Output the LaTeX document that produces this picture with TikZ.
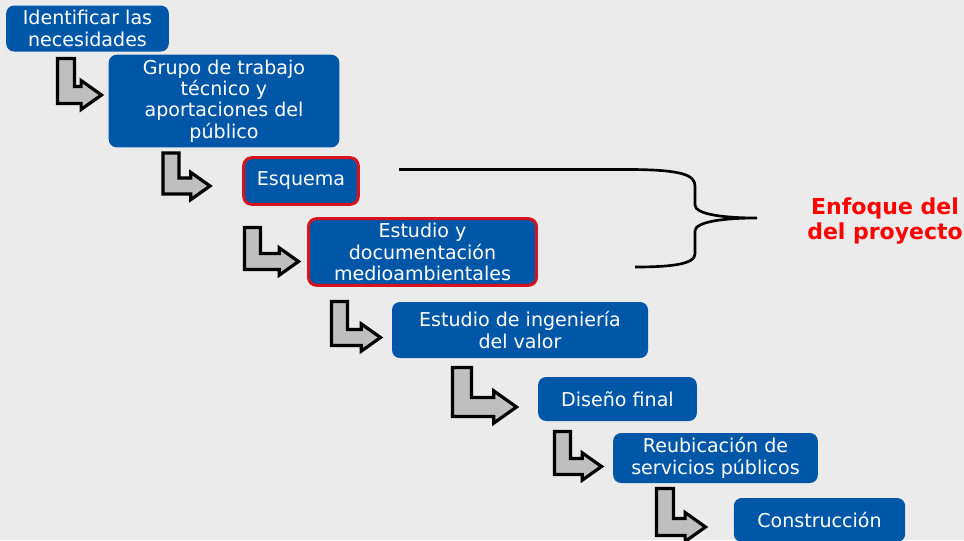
\documentclass[tikz,border=0pt]{standalone}
\usepackage{fontspec}
\setmainfont{DejaVu Sans}

\definecolor{boxblue}{HTML}{0057A8}
\definecolor{focusred}{HTML}{D7141E}
\definecolor{arrowgray}{HTML}{BFBFBF}
\definecolor{slidebg}{HTML}{EBEBEB}

% bent step arrow: x left, y top, y bottom, x tip, thickness
\newcommand{\stepArrow}[5]{%
  \draw[steparrow] (#1,#2) -- (#1+#5,#2) -- (#1+#5,#3-#5) -- (#4-1.2*#5,#3-#5)
    -- (#4-1.2*#5,#3-1.35*#5) -- (#4,#3-0.5*#5) -- (#4-1.2*#5,#3+0.35*#5)
    -- (#4-1.2*#5,#3) -- (#1,#3) -- cycle;}

\begin{document}
\begin{tikzpicture}[
                    x=0.75pt, y=-0.75pt,
                    stage/.style={fill=boxblue, text=white, rounded corners=6pt, align=center,
                                  font=\fontsize{14.3}{16}\selectfont, inner sep=2pt},
                    focus/.style={stage, draw=focusred, line width=2.2pt},
                    steparrow/.style={fill=arrowgray, draw=black, line width=2.4pt, line join=miter}
                    ]

    \useasboundingbox[fill=slidebg] (0,0) rectangle (964,540);

    \node [stage, minimum width=122pt, minimum height=34.5pt] (needs) at (87.5,28.5) {Identificar las\\necesidades};
    \node [stage, minimum width=173pt, minimum height=69.5pt] (group) at (224,101) {Grupo de trabajo\\técnico y\\aportaciones del\\público};
    \node [focus, minimum width=86pt, minimum height=35pt] (scheme) at (301,181) {Esquema};
    \node [focus, minimum width=171pt, minimum height=50pt] (envstudy) at (422.5,252) {Estudio y\\documentación\\medioambientales};
    \node [stage, minimum width=192pt, minimum height=42pt] (valeng) at (520,330) {Estudio de ingeniería\\del valor};
    \node [stage, minimum width=119pt, minimum height=33pt] (design) at (617.5,399) {Diseño final};
    \node [stage, minimum width=153.5pt, minimum height=37.5pt] (utilities) at (715.5,458) {Reubicación de\\servicios públicos};
    \node [stage, minimum width=128.5pt, minimum height=33pt] (build) at (819.5,520) {Construcción};

    \stepArrow{57.5}{58.5}{103.5}{101.5}{17}
    \stepArrow{163}{153}{194}{210}{16}
    \stepArrow{244.5}{227.5}{269.5}{298.5}{16}
    \stepArrow{331.5}{301.5}{345.5}{380.5}{16}
    \stepArrow{452.5}{367.5}{416.5}{516.5}{19}
    \stepArrow{554.5}{431.5}{474.5}{601.5}{16}
    \stepArrow{656.5}{488.5}{535.5}{705.5}{17}

    % brace
    \draw[line width=2pt] (399,169.5) -- (633,169.5) .. controls (682,170) and (695,175) .. (695,186)
        -- (695,205) .. controls (695,214) and (722,218) .. (757,218)
        .. controls (722,218) and (695,222) .. (695,231)
        -- (695,254) .. controls (695,264) and (672,267) .. (635,267);

    \node [text=red, font=\fontsize{16.5}{19}\selectfont\bfseries, align=center] (focuslabel) at (885,221) {Enfoque del\\del proyecto};
\end{tikzpicture}
\end{document}
